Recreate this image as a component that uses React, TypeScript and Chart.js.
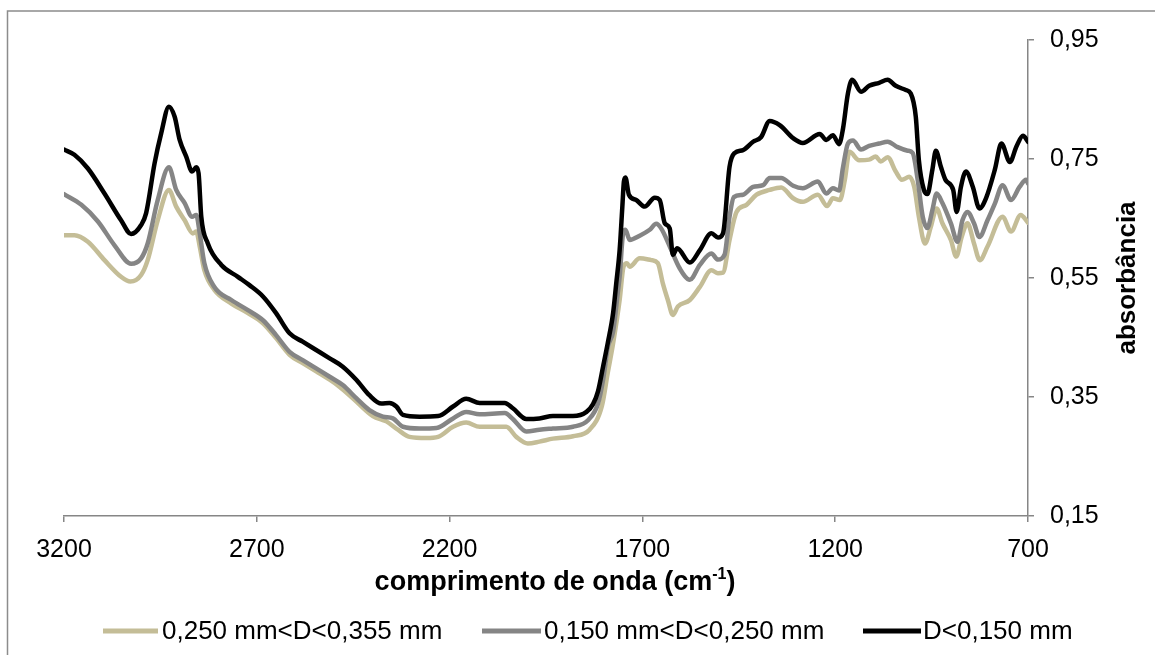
import React, { useEffect, useRef } from "react";
import { Chart, registerables } from "chart.js";

Chart.register(...registerables);

// ---------- data ----------
const seriesLabels = ["0,250 mm<D<0,355 mm", "0,150 mm<D<0,250 mm", "D<0,150 mm"];
const seriesColors = ["#C4BD97", "#858585", "#000000"];
const xTickValues = [3200, 2700, 2200, 1700, 1200, 700];
const yTickValues = [0.15, 0.35, 0.55, 0.75, 0.95];

const tanWavenumbers = [3200,3173,3138,3095,3052,3028,3000,2983,2957,2928,2909,2887,2866,2857,2848,2836,2810,2766,2723,2684,2650,2615,2581,2546,2511,2485,2451,2399,2364,2334,2304,2260,2230,2191,2157,2122,2053,2027,1997,1967,1932,1880,1837,1805,1790,1776,1759,1749,1740,1733,1707,1677,1660,1647,1634,1621,1608,1577,1551,1521,1504,1491,1474,1456,1430,1404,1370,1340,1309,1284,1245,1221,1206,1188,1175,1163,1138,1112,1095,1082,1064,1043,1027,1008,995,983,967,952,937,922,900,886,872,857,840,825,805,766,744,719,700];
const tanAbsorbance = [0.622,0.622,0.611,0.580,0.552,0.544,0.555,0.580,0.647,0.698,0.670,0.647,0.625,0.628,0.603,0.563,0.530,0.507,0.491,0.474,0.449,0.421,0.407,0.393,0.379,0.367,0.348,0.318,0.309,0.295,0.283,0.281,0.283,0.300,0.307,0.300,0.300,0.283,0.272,0.275,0.280,0.284,0.295,0.335,0.390,0.440,0.513,0.569,0.575,0.569,0.583,0.580,0.575,0.541,0.513,0.488,0.502,0.513,0.535,0.563,0.558,0.559,0.614,0.661,0.673,0.690,0.698,0.702,0.684,0.678,0.690,0.671,0.684,0.681,0.715,0.762,0.748,0.749,0.754,0.746,0.753,0.729,0.715,0.720,0.703,0.653,0.608,0.636,0.667,0.642,0.614,0.586,0.619,0.642,0.608,0.580,0.603,0.653,0.628,0.656,0.643];

const grayWavenumbers = [3200,3155,3112,3069,3026,3000,2983,2957,2928,2909,2887,2868,2857,2848,2836,2810,2766,2723,2684,2650,2615,2581,2546,2511,2477,2442,2408,2373,2347,2321,2278,2234,2191,2157,2122,2057,2036,2001,1967,1932,1880,1841,1815,1802,1789,1776,1763,1759,1750,1744,1733,1707,1681,1664,1651,1629,1603,1577,1551,1521,1504,1487,1474,1463,1439,1413,1387,1370,1340,1309,1284,1245,1223,1206,1190,1180,1167,1154,1133,1112,1086,1064,1038,1012,999,986,973,961,948,937,922,900,883,870,857,840,826,805,786,766,744,722,705,700];
const grayAbsorbance = [0.691,0.673,0.645,0.605,0.574,0.583,0.608,0.681,0.736,0.698,0.676,0.653,0.656,0.625,0.575,0.535,0.513,0.496,0.479,0.454,0.426,0.412,0.398,0.384,0.370,0.348,0.328,0.317,0.314,0.300,0.297,0.298,0.314,0.325,0.321,0.323,0.313,0.292,0.295,0.297,0.300,0.311,0.339,0.379,0.435,0.460,0.530,0.552,0.625,0.631,0.614,0.621,0.631,0.641,0.633,0.603,0.566,0.547,0.572,0.591,0.581,0.589,0.653,0.686,0.690,0.703,0.706,0.718,0.718,0.705,0.701,0.712,0.692,0.701,0.697,0.735,0.776,0.781,0.766,0.772,0.776,0.779,0.770,0.764,0.760,0.715,0.653,0.634,0.664,0.692,0.676,0.642,0.611,0.647,0.661,0.642,0.619,0.647,0.675,0.706,0.681,0.703,0.715,0.709];

const blackWavenumbers = [3200,3173,3138,3095,3052,3026,3000,2987,2965,2948,2928,2913,2900,2883,2868,2857,2851,2844,2827,2792,2749,2719,2684,2650,2615,2581,2546,2511,2477,2442,2408,2377,2356,2338,2321,2278,2230,2191,2157,2122,2057,2036,2001,1967,1932,1880,1845,1828,1815,1802,1790,1776,1768,1759,1752,1748,1744,1735,1716,1694,1668,1655,1642,1629,1621,1610,1577,1551,1521,1504,1491,1474,1461,1439,1413,1392,1370,1344,1309,1284,1240,1223,1206,1190,1180,1167,1156,1133,1112,1086,1064,1043,1017,1004,991,983,970,961,948,939,926,914,894,885,874,861,843,826,809,786,769,747,730,713,700];
const blackAbsorbance = [0.766,0.757,0.734,0.692,0.647,0.624,0.639,0.659,0.743,0.793,0.838,0.821,0.782,0.754,0.729,0.736,0.726,0.653,0.608,0.572,0.552,0.538,0.519,0.491,0.457,0.443,0.429,0.415,0.401,0.379,0.353,0.339,0.340,0.334,0.320,0.317,0.318,0.334,0.347,0.340,0.340,0.331,0.313,0.314,0.318,0.318,0.325,0.338,0.360,0.401,0.440,0.491,0.540,0.597,0.670,0.712,0.719,0.690,0.681,0.670,0.685,0.681,0.642,0.633,0.589,0.600,0.576,0.597,0.625,0.618,0.625,0.737,0.760,0.765,0.779,0.787,0.814,0.807,0.785,0.777,0.792,0.782,0.790,0.775,0.800,0.860,0.883,0.863,0.873,0.878,0.883,0.873,0.866,0.860,0.821,0.748,0.698,0.691,0.732,0.764,0.737,0.715,0.698,0.661,0.703,0.729,0.703,0.667,0.684,0.732,0.776,0.745,0.771,0.789,0.779];

const xTitleMain = "comprimento de onda (cm";
const xTitleSup = "-1";
const xTitleEnd = ")";
const yTitle = "absorbância";

// ---------- helpers ----------
const FONT = '"Liberation Sans", Arial, sans-serif';
const AXIS_GRAY = "#868686";

function toPoints(xs: number[], ys: number[]) {
  const n = Math.min(xs.length, ys.length);
  const pts: { x: number; y: number }[] = [];
  for (let i = 0; i < n; i++) pts.push({ x: xs[i], y: ys[i] });
  return pts;
}

const legendLayout = [
  { lineX0: 103, lineX1: 158, textX: 162 },
  { lineX0: 482, lineX1: 541, textX: 544 },
  { lineX0: 863, lineX1: 921, textX: 923 },
];

const decorPlugin = {
  id: "decor",
  beforeDraw(chart: any) {
    const ctx = chart.ctx as CanvasRenderingContext2D;
    ctx.save();
    ctx.fillStyle = "#ffffff";
    ctx.fillRect(0, 0, chart.width, chart.height);
    ctx.strokeStyle = "#8c8c8c";
    ctx.lineWidth = 1.5;
    ctx.strokeRect(7.5, 11, 1300, 800);
    ctx.restore();
  },
  afterDraw(chart: any) {
    const ctx = chart.ctx as CanvasRenderingContext2D;
    ctx.save();
    ctx.fillStyle = "#000000";
    // x title
    const big = `bold 27px ${FONT}`;
    const small = `bold 16px ${FONT}`;
    ctx.font = big;
    const w1 = ctx.measureText(xTitleMain).width;
    const w3 = ctx.measureText(xTitleEnd).width;
    ctx.font = small;
    const w2 = ctx.measureText(xTitleSup).width;
    let x = 555 - (w1 + w2 + w3) / 2;
    const base = 590;
    ctx.textBaseline = "alphabetic";
    ctx.textAlign = "left";
    ctx.font = big;
    ctx.fillText(xTitleMain, x, base);
    x += w1;
    ctx.font = small;
    ctx.fillText(xTitleSup, x, base - 11);
    x += w2;
    ctx.font = big;
    ctx.fillText(xTitleEnd, x, base);

    // y title
    ctx.save();
    ctx.translate(1135, 278);
    ctx.rotate(-Math.PI / 2);
    ctx.font = `bold 26px ${FONT}`;
    ctx.textAlign = "center";
    ctx.textBaseline = "alphabetic";
    ctx.fillText(yTitle, 0, 0);
    ctx.restore();

    // legend
    const ly = 631;
    ctx.font = `26px ${FONT}`;
    ctx.textBaseline = "middle";
    ctx.textAlign = "left";
    chart.data.datasets.forEach((ds: any, i: number) => {
      const L = legendLayout[i];
      ctx.strokeStyle = ds.borderColor;
      ctx.lineWidth = 5;
      ctx.lineCap = "butt";
      ctx.beginPath();
      ctx.moveTo(L.lineX0, ly);
      ctx.lineTo(L.lineX1, ly);
      ctx.stroke();
      ctx.fillStyle = "#000000";
      ctx.fillText(ds.label, L.textX, ly + 1);
    });
    ctx.restore();
  },
};

export default function App() {
  const canvasRef = useRef<HTMLCanvasElement | null>(null);

  useEffect(() => {
    if (!canvasRef.current) return;
    const datasets = [
      { data: toPoints(tanWavenumbers, tanAbsorbance), order: 2 },
      { data: toPoints(grayWavenumbers, grayAbsorbance), order: 1 },
      { data: toPoints(blackWavenumbers, blackAbsorbance), order: 0 },
    ].map((d, i) => ({
      label: seriesLabels[i],
      data: d.data,
      order: d.order,
      borderColor: seriesColors[i],
      backgroundColor: seriesColors[i],
      borderWidth: 4.5,
      pointRadius: 0,
      fill: false,
      cubicInterpolationMode: "monotone" as const,
      borderJoinStyle: "round" as const,
      borderCapStyle: "round" as const,
    }));

    const chart = new Chart(canvasRef.current, {
      type: "line",
      data: { datasets },
      plugins: [decorPlugin],
      options: {
        animation: false,
        responsive: false,
        devicePixelRatio: 1,
        layout: { padding: { left: 64, top: 40, right: 0, bottom: 79 } },
        plugins: {
          legend: { display: false },
          tooltip: { enabled: false },
          title: { display: false },
        },
        scales: {
          x: {
            type: "linear",
            position: "bottom",
            reverse: true,
            min: 700,
            max: 3200,
            afterBuildTicks: (scale: any) => {
              scale.ticks = xTickValues.map((v) => ({ value: v }));
            },
            afterFit: (scale: any) => {
              scale.height = 60;
            },
            border: { display: true, color: AXIS_GRAY, width: 1.5 },
            grid: {
              display: true,
              drawOnChartArea: false,
              drawTicks: true,
              tickLength: 6,
              color: AXIS_GRAY,
              lineWidth: 1.5,
            },
            ticks: {
              autoSkip: false,
              maxRotation: 0,
              padding: 13,
              color: "#000000",
              font: { family: FONT, size: 25 },
              callback: (v: any) => String(v),
            },
          },
          y: {
            type: "linear",
            position: "right",
            min: 0.15,
            max: 0.95,
            afterBuildTicks: (scale: any) => {
              scale.ticks = yTickValues.map((v) => ({ value: v }));
            },
            afterFit: (scale: any) => {
              scale.width = 127;
            },
            border: { display: true, color: AXIS_GRAY, width: 1.5 },
            grid: {
              display: true,
              drawOnChartArea: false,
              drawTicks: true,
              tickLength: 6,
              color: AXIS_GRAY,
              lineWidth: 1.5,
            },
            ticks: {
              padding: 16,
              color: "#000000",
              font: { family: FONT, size: 25 },
              callback: (v: any) => Number(v).toFixed(2).replace(".", ","),
            },
          },
        },
      },
    });
    return () => chart.destroy();
  }, []);

  return (
    <div style={{ position: "absolute", left: 0, top: 0, width: 1155, height: 655, background: "#fff" }}>
      <canvas ref={canvasRef} width={1155} height={655} style={{ display: "block" }} />
    </div>
  );
}
